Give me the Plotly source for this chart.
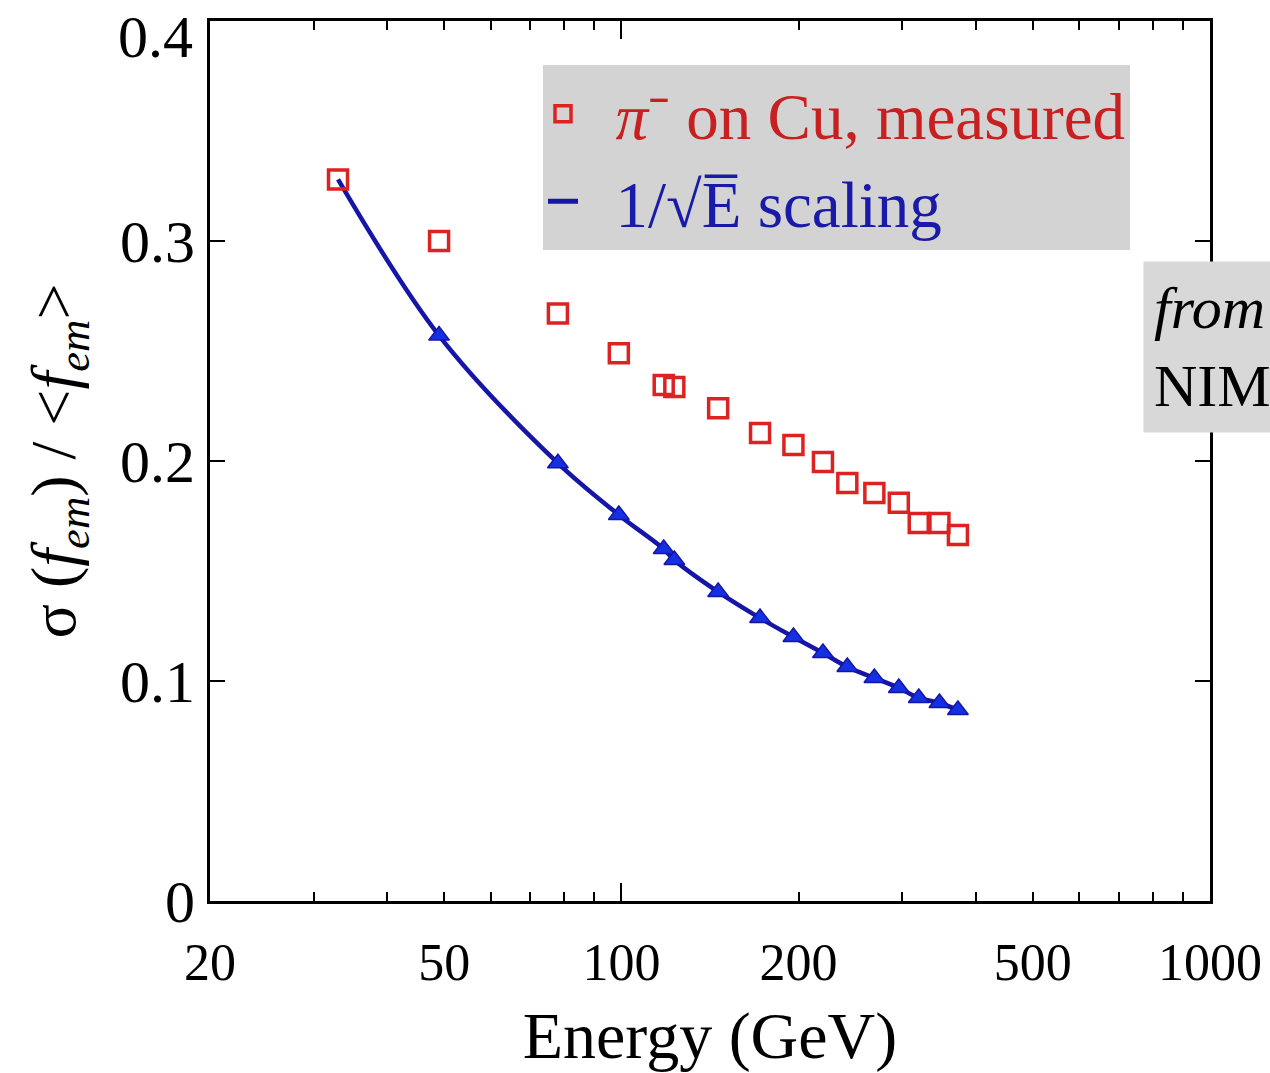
import plotly.graph_objects as go

energy = [33, 49, 78, 99, 118, 123, 146, 172, 196, 220, 242, 269, 296, 320, 347, 373]
measured = [0.328, 0.300, 0.267, 0.249, 0.2345, 0.2336, 0.224, 0.2127, 0.2073, 0.1995,
            0.190, 0.1855, 0.181, 0.1718, 0.1718, 0.1664]
scaling = [0.328, 0.257, 0.199, 0.1755, 0.160, 0.155, 0.1405, 0.1286, 0.120, 0.1127,
           0.1064, 0.1014, 0.0968, 0.0923, 0.090, 0.0868]

x_tickvals = [20, 50, 100, 200, 500, 1000]
x_ticktext = ["20", "50", "100", "200", "500", "1000"]
x_minorvals = [30, 40, 60, 70, 80, 90, 300, 400, 600, 700, 800, 900]
y_tickvals = [0, 0.1, 0.2, 0.3]
y_ticktext = ["0", "0.1", "0.2", "0.3"]
y_top = 0.4
y_top_text = "0.4"

RED = "#dd2222"
BLUE = "#1530e0"
DBLUE = "#1515a8"
FONT = "Liberation Serif"

fig = go.Figure()

fig.add_trace(go.Scatter(
    x=energy, y=scaling, mode="lines",
    line=dict(color=DBLUE, width=4.5, shape="spline"),
    showlegend=False,
))
fig.add_trace(go.Scatter(
    x=energy[1:], y=scaling[1:], mode="markers",
    marker=dict(symbol="triangle-up", size=18, color=BLUE, line=dict(color=DBLUE, width=1.5)),
    showlegend=False,
))
fig.add_trace(go.Scatter(
    x=energy, y=measured, mode="markers",
    marker=dict(symbol="square-open", size=19, color=RED, line=dict(color=RED, width=3.5)),
    name="<span style='color:#c82020'>  <i>π</i>⁻ on Cu, measured</span>",
))
fig.add_trace(go.Scatter(
    x=[None], y=[None], mode="lines",
    line=dict(color=DBLUE, width=5),
    name="<span style='color:#1a1aa8'>  1/√E̅ scaling</span>",
))
# overlay axis used only to draw the longer tick at 100 GeV
fig.add_trace(go.Scatter(x=[None], y=[None], xaxis="x2", showlegend=False))

fig.update_layout(
    width=1270, height=1073,
    margin=dict(l=210, r=60, t=21, b=172, autoexpand=False),
    paper_bgcolor="white", plot_bgcolor="white",
    font=dict(family=FONT, size=54, color="black"),
    legend=dict(
        x=0.333, y=0.95, xanchor="left", yanchor="top",
        bgcolor="#d3d3d3", borderwidth=0,
        font=dict(family=FONT, size=65),
        tracegroupgap=0, itemsizing="trace",
    ),
    xaxis=dict(
        type="log", range=[1.30103, 3], automargin=False,
        tickmode="array", tickvals=x_tickvals, ticktext=x_ticktext,
        ticks="inside", ticklen=9, tickwidth=2, tickcolor="black",
        minor=dict(tickmode="array", tickvals=x_minorvals, ticks="inside", ticklen=9, tickwidth=2, tickcolor="black"),
        showline=True, linecolor="black", linewidth=3, mirror="ticks",
        showgrid=False, zeroline=False,
        tickfont=dict(family=FONT, size=52),
        ticklabelstandoff=14, ticklabeloverflow="allow",
        title=dict(text="Energy (GeV)", font=dict(family=FONT, size=66), standoff=28),
    ),
    xaxis2=dict(
        type="log", range=[1.30103, 3], overlaying="x", anchor="y", automargin=False,
        tickmode="array", tickvals=[100], showticklabels=False,
        ticks="inside", ticklen=18, tickwidth=2, tickcolor="black",
        showline=False, mirror="ticks", showgrid=False, zeroline=False,
    ),
    yaxis=dict(
        range=[0, y_top], automargin=False,
        tickmode="array", tickvals=y_tickvals, ticktext=y_ticktext,
        ticks="inside", ticklen=15, tickwidth=2, tickcolor="black",
        showline=True, linecolor="black", linewidth=3, mirror="ticks",
        showgrid=False, zeroline=False,
        tickfont=dict(family=FONT, size=60),
        ticklabeloverflow="allow",
        title=dict(text="σ (<i>f</i><sub><i>em</i></sub>) / &lt;<i>f</i><sub><i>em</i></sub>&gt;",
                   font=dict(family=FONT, size=64), standoff=24),
    ),
)

# top y tick label, nudged down so it stays inside the page
fig.add_annotation(
    xref="paper", yref="y", x=0, y=y_top, xanchor="right", yanchor="middle",
    xshift=-15, yshift=-16, text=y_top_text, showarrow=False,
    font=dict(family=FONT, size=60, color="black"),
)

fig.add_annotation(
    xref="paper", yref="paper", x=0.933, y=0.727, xanchor="left", yanchor="top",
    text="<i>from</i><br>NIM",
    align="left", showarrow=False,
    bgcolor="#d8d8d8", width=190, height=150, borderpad=10,
    font=dict(family=FONT, size=60, color="black"),
)

fig.write_html("out.html")
